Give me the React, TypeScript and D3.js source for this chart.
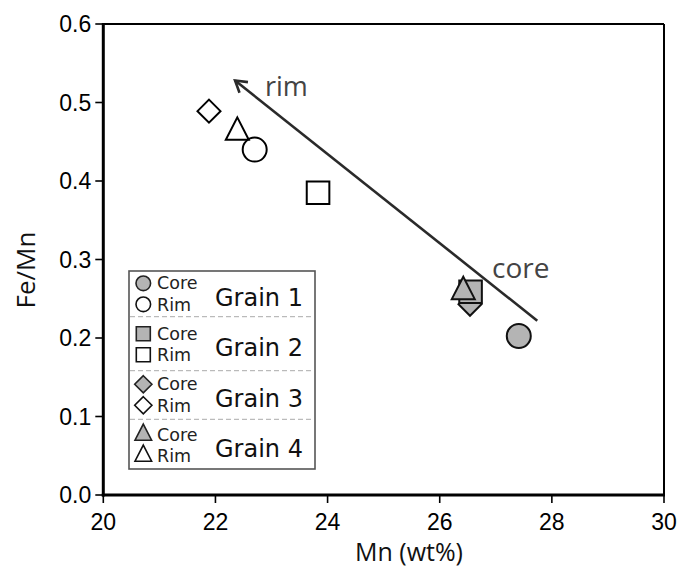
import React from "react";
import * as d3 from "d3";

const grainNames = ["Grain 1", "Grain 2", "Grain 3", "Grain 4"];
const grainShapes = ["circle", "square", "diamond", "triangle"];
const coreMn = [27.41, 26.55, 26.54, 26.42];
const coreFeMn = [0.2025, 0.259, 0.243, 0.259];
const rimMn = [22.7, 23.83, 21.885, 22.39];
const rimFeMn = [0.44, 0.385, 0.489, 0.462];
const coreDrawOrder = [2, 1, 3, 0];
const xTicks = [20, 22, 24, 26, 28, 30];
const yTicks = [0, 0.1, 0.2, 0.3, 0.4, 0.5, 0.6];
const trendMn = [27.74, 22.35];
const trendFeMn = [0.222, 0.528];
const trendLabels = ["core", "rim"];

const W = 680;
const H = 571;
const M = { left: 103.3, right: 664, top: 24, bottom: 495 };
const GRAY = "#b4b4b4";

function shapePath(shape: string, s: number): string {
  if (shape === "circle") {
    const p = d3.path();
    p.arc(0, 0, s, 0, Math.PI * 2);
    p.closePath();
    return p.toString();
  }
  if (shape === "square") {
    return `M${-s},${-s}H${s}V${s}H${-s}Z`;
  }
  if (shape === "diamond") {
    return `M0,${-s}L${s},0L0,${s}L${-s},0Z`;
  }
  const w = s;
  const h = s * 1.95;
  return `M0,${(-2 * h) / 3}L${w},${h / 3}L${-w},${h / 3}Z`;
}

const mainSize: Record<string, number> = { circle: 12, square: 11.3, diamond: 11.5, triangle: 11.5 };
const legSize: Record<string, number> = { circle: 7.3, square: 7, diamond: 8.6, triangle: 8.3 };

export default function App() {
  const x = d3.scaleLinear().domain([20, 30]).range([M.left, M.right]);
  const y = d3.scaleLinear().domain([0, 0.6]).range([M.bottom, M.top]);

  const tickFont = "'Liberation Sans', Arial, sans-serif";
  const titleFont = "'Open Sans', sans-serif";
  const legFont = "'DejaVu Sans', Verdana, sans-serif";

  const ax1 = x(trendMn[0]);
  const ay1 = y(trendFeMn[0]);
  const ax2 = x(trendMn[1]);
  const ay2 = y(trendFeMn[1]);
  const ang = Math.atan2(ay1 - ay2, ax1 - ax2);
  const headLen = 13;
  const headAng = 0.55;
  const h1 = [ax2 + headLen * Math.cos(ang + headAng), ay2 + headLen * Math.sin(ang + headAng)];
  const h2 = [ax2 + headLen * Math.cos(ang - headAng), ay2 + headLen * Math.sin(ang - headAng)];

  const leg = { x: 129, y: 271, w: 186, h: 198 };
  const rowCore = (i: number) => 283.3 + 50.5 * i;
  const sepYs = [316.7, 370.7, 419.3];

  return (
    <svg width={W} height={H} style={{ position: "absolute", left: 0, top: 0, background: "#fff" }}>
      <rect x={0} y={0} width={W} height={H} fill="#fff" />
      {yTicks.map((t) => (
        <g key={"y" + t}>
          <line x1={M.left - 8} x2={M.left} y1={y(t)} y2={y(t)} stroke="#000" strokeWidth={1.6} />
          <text x={M.left - 12} y={y(t)} dy="0.36em" textAnchor="end" fontFamily={tickFont} fontSize={23} fill="#000">
            {t.toFixed(1)}
          </text>
        </g>
      ))}
      {xTicks.map((t) => (
        <g key={"x" + t}>
          <line x1={x(t)} x2={x(t)} y1={M.bottom} y2={M.bottom + 8} stroke="#000" strokeWidth={1.6} />
          <text x={x(t)} y={530} textAnchor="middle" fontFamily={tickFont} fontSize={23} fill="#000">
            {t}
          </text>
        </g>
      ))}
      <line x1={M.left} x2={M.right} y1={M.top} y2={M.top} stroke="#000" strokeWidth={2.2} />
      <line x1={M.right} x2={M.right} y1={M.top} y2={M.bottom} stroke="#000" strokeWidth={2} />
      <line x1={M.left} x2={M.left} y1={M.top - 1} y2={M.bottom + 1.5} stroke="#000" strokeWidth={3} />
      <line x1={M.left - 1.5} x2={M.right + 1} y1={M.bottom} y2={M.bottom} stroke="#000" strokeWidth={3} />

      <text x={409} y={561} textAnchor="middle" fontFamily={titleFont} fontSize={25} fill="#111">
        Mn (wt%)
      </text>
      <text
        transform={`translate(35,270) rotate(-90)`}
        textAnchor="middle"
        fontFamily={titleFont}
        fontSize={26}
        fill="#111"
      >
        Fe/Mn
      </text>

      {grainShapes.map((s, i) => (
        <path
          key={"rim" + i}
          d={shapePath(s, mainSize[s])}
          transform={`translate(${x(rimMn[i])},${y(rimFeMn[i])})`}
          fill="#fff"
          stroke="#000"
          strokeWidth={2}
        />
      ))}
      {coreDrawOrder.map((i) => (
        <path
          key={"core" + i}
          d={shapePath(grainShapes[i], mainSize[grainShapes[i]])}
          transform={`translate(${x(coreMn[i])},${y(coreFeMn[i])})`}
          fill={GRAY}
          stroke="#111"
          strokeWidth={2}
        />
      ))}

      <line x1={ax1} y1={ay1} x2={ax2} y2={ay2} stroke="#2a2a2a" strokeWidth={2.6} />
      <path
        d={`M${h1[0]},${h1[1]}L${ax2},${ay2}L${h2[0]},${h2[1]}`}
        fill="none"
        stroke="#2a2a2a"
        strokeWidth={2.6}
        strokeLinejoin="miter"
      />
      <text x={492} y={278} fontFamily={titleFont} fontSize={28} fill="#444">
        {trendLabels[0]}
      </text>
      <text x={265} y={96} fontFamily={titleFont} fontSize={27} fill="#444">
        {trendLabels[1]}
      </text>

      <rect x={leg.x} y={leg.y} width={leg.w} height={leg.h} fill="#fff" stroke="#555" strokeWidth={1.6} />
      {sepYs.map((sy, k) => (
        <line
          key={"sep" + k}
          x1={leg.x + 1}
          x2={leg.x + leg.w - 1}
          y1={sy}
          y2={sy}
          stroke="#aaa"
          strokeWidth={1}
          strokeDasharray="5,3"
        />
      ))}
      {grainNames.map((g, i) => {
        const cy = rowCore(i);
        const ry = cy + 21;
        const s = grainShapes[i];
        return (
          <g key={"leg" + i}>
            <path
              d={shapePath(s, legSize[s])}
              transform={`translate(143.3,${cy})`}
              fill={GRAY}
              stroke="#222"
              strokeWidth={1.6}
            />
            <path
              d={shapePath(s, legSize[s])}
              transform={`translate(143.3,${ry})`}
              fill="#fff"
              stroke="#111"
              strokeWidth={1.6}
            />
            <text x={157} y={cy + 6} fontFamily={legFont} fontSize={17.5} fill="#222">
              Core
            </text>
            <text x={157} y={ry + 6.5} fontFamily={legFont} fontSize={17.5} fill="#222">
              Rim
            </text>
            <text x={215} y={cy + 22.5} fontFamily={legFont} fontSize={24} fill="#111">
              {g}
            </text>
          </g>
        );
      })}
    </svg>
  );
}
